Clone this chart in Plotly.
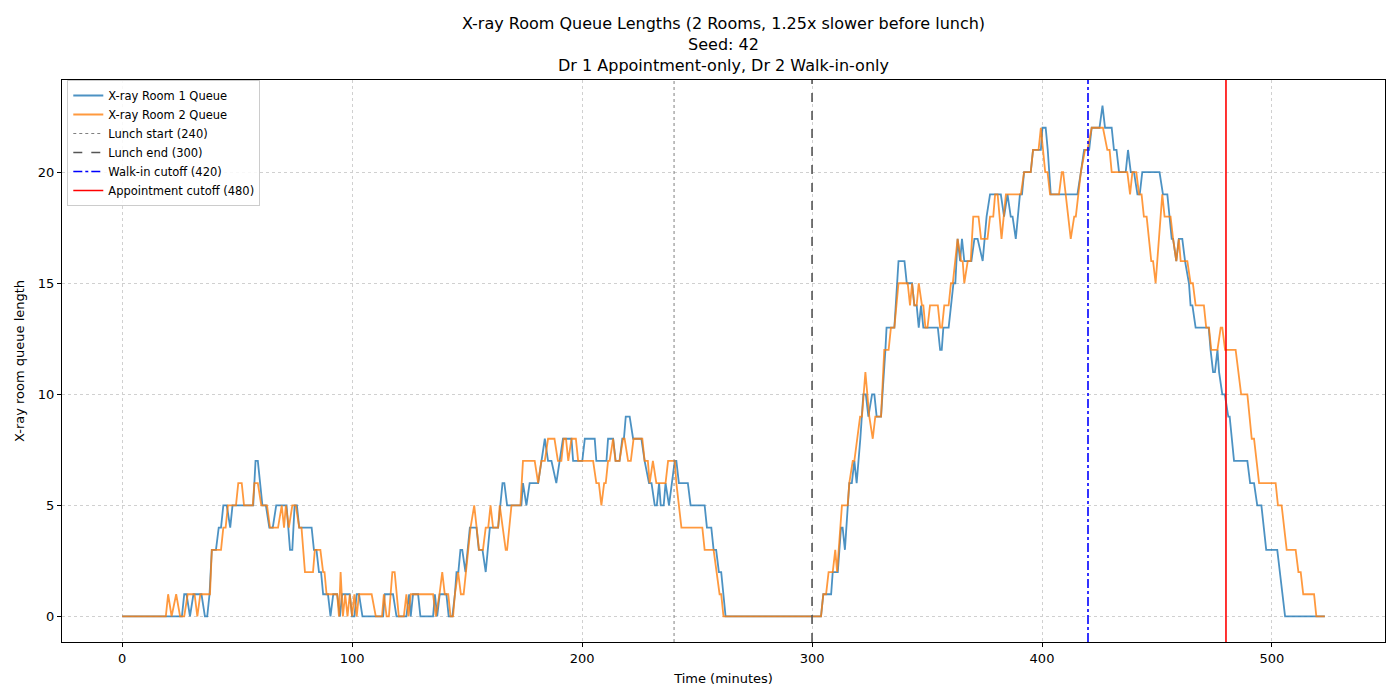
import plotly.graph_objects as go

# queue length breakpoints (time in minutes, queue length)
room1_t = [0, 26, 27, 28, 29.5, 31, 34.5, 36, 37, 38, 39, 40.8, 42, 43, 44, 45.5, 47, 48, 57, 58, 59, 61, 62.5, 64,
           65.5, 67, 70, 71.5, 73, 74, 75, 76, 77, 82.4, 83.4, 84.5, 85.6, 86.5, 87.4, 89.5, 90.6, 91.8, 93.5,
           94.7, 95.7, 99, 100, 101, 102, 103, 104.5, 113.5, 114.2, 117.8, 119.3, 123.6, 124.8, 125.5, 126.5,
           128.7, 129.7, 135.2, 136, 137, 138.1, 141, 142, 143.6, 144.7, 145.4, 146.2, 147.1, 147.9, 149.3,
           151.2, 154.1, 155.1, 156.7, 158.1, 159.9, 163.5, 165.4, 166.2, 167.4, 173.6, 174.3, 175.8, 177.2,
           180.9, 182.3, 183.8, 185.2, 186.7, 188.8, 190.3, 191.7, 195.4, 196.1, 200.1, 201.2, 205.5, 206.2,
           210.6, 211.3, 213.5, 214.6, 216.3, 217.5, 218.2, 219, 220.7, 222.2, 225.8, 227.2, 229.1, 230.2,
           231.6, 232.5, 233.5, 234.2, 235.5, 236.3, 237.8, 239, 240.3, 241, 242.1, 246, 247.2, 253.3, 254.3,
           256.2, 257.2, 258.3, 259.5, 260.5, 262.4, 303.9, 304.9, 308.3, 309, 311.2, 312.6, 313.3, 314.3,
           316.2, 317.3, 318.4, 319.4, 321, 322.3, 323.4, 324.5, 326.1, 327.1, 328.1, 330, 331.9, 332.4,
           335.8, 337.6, 340.2, 341.2, 343.5, 344.5, 345.5, 346.4, 347.4, 348.4, 354.7, 355.7, 356.4, 357.1,
           359.4, 361.5, 362.3, 363.3, 364.4, 365.2, 366.2, 369.3, 370.6, 372, 374.2, 375.9, 377.4, 382.1,
           383.5, 385, 386.4, 387.2, 388.6, 390.4, 391.3, 392.2, 395.1, 396.1, 399.5, 400.2, 401.6, 402.5,
           403.8, 415.4, 416.9, 418.3, 420.5, 421.6, 425, 426.3, 427.4, 430.3, 431.3, 432.4, 433.5, 436.4,
           437.4, 438.6, 440, 441.5, 442.5, 443.6, 451.1, 452.6, 454.5, 455.5, 456.4, 457, 458.4, 459.5,
           461, 462.2, 463.9, 464.6, 465.4, 466.8, 471.1, 472.5, 473.3, 474.4, 475.2, 476.3, 477, 478.4,
           479.5, 481, 481.6, 483.5, 489.3, 490.5, 492.2, 493.6, 495.4, 497.5, 502.3, 505.7, 523]
room1_q = [0, 0, 1, 1, 0, 1, 1, 0, 0, 1, 3, 3, 4, 4, 5, 5, 4, 5, 5, 7, 7, 5, 5, 4,
           4, 5, 5, 5, 3, 3, 5, 5, 4, 4, 3, 3, 2, 2, 1, 1, 0, 1, 1,
           0, 1, 1, 0, 0, 1, 1, 0, 0, 1, 1, 0, 0, 1, 0, 1,
           1, 0, 0, 1, 0, 1, 1, 0, 0, 1, 2, 2, 3, 3, 2,
           4, 4, 3, 3, 2, 4, 4, 6, 6, 5, 5, 6, 5, 6,
           6, 7, 8, 7, 7, 6, 7, 8, 8, 7, 7, 8, 8, 7,
           7, 8, 8, 7, 7, 8, 8, 9, 9, 8, 8, 7, 6, 6,
           5, 5, 6, 5, 5, 6, 5, 6, 7, 7, 6, 6, 5, 5, 4,
           4, 3, 3, 2, 2, 0, 0, 1, 1, 2, 2, 4, 4, 3,
           6, 6, 7, 6, 8, 10, 10, 9, 10, 10, 9, 9, 12, 13,
           13, 16, 16, 15, 15, 14, 14, 13, 14, 13, 13, 12, 12, 13,
           13, 15, 15, 17, 16, 17, 16, 16, 17, 17, 16, 18, 19, 19,
           18, 19, 18, 18, 17, 19, 19, 20, 20, 21, 21, 22, 22, 21,
           19, 19, 20, 21, 21, 22, 22, 23, 22, 22, 21, 21, 20, 20,
           21, 20, 20, 19, 19, 20, 20, 19, 19, 18, 17, 17, 16, 17,
           17, 16, 15, 14, 14, 13, 13, 13, 12, 11, 11, 12, 11, 10,
           10, 9, 9, 7, 7, 6, 6, 5, 5, 3, 3, 0, 0]

room2_t = [0, 19, 20, 21.5, 23.5, 25.2, 27, 28.5, 31.5, 32.7, 34, 38.2, 39, 43, 44, 45, 46, 49.5, 50.5, 52, 53,
           56.8, 57.5, 59, 60.5, 63, 64.3, 67.8, 69.4, 70.4, 71.2, 72.5, 74, 75.5, 77, 78, 79.5, 83, 83.8, 86.2,
           87.4, 88, 88.9, 93.5, 94.3, 95, 96, 97, 98, 99, 100, 101, 102, 103, 108.5, 110.3, 113, 113.8, 115,
           116, 117.5, 118.5, 120.3, 122.5, 123.6, 124.5, 125.5, 135.2, 136.4, 138, 139.2, 140.3, 141.8, 142.8,
           143.9, 144.7, 146.1, 147.3, 148.5, 150.5, 151.5, 153.1, 154.1, 155.2, 156.9, 158.1, 159.2, 160.2,
           161.3, 163.5, 164.2, 166.8, 167.4, 169.3, 173.2, 174.3, 179.4, 180.9, 182.3, 183.8, 185.2, 188,
           189.5, 191, 192, 193, 194, 195.4, 197.3, 198.3, 204.8, 206.2, 207.3, 208.4, 209.6, 210.3, 211.3,
           212, 213.5, 214.5, 216.3, 217.8, 218.5, 220, 221.2, 222.4, 226.2, 227.2, 228.6, 229.4, 230.8,
           232.3, 236.3, 237.4, 240.3, 241, 243.2, 252.3, 253.3, 257.2, 259.8, 260.5, 261.5, 303.9, 304.9,
           306.1, 307.2, 309, 310.1, 310.9, 313, 315.5, 316.2, 317.7, 318.4, 320.9, 321.7, 323.2, 324.9,
           326.4, 327.5, 330, 331.4, 333.3, 334.3, 335.8, 337.6, 341.6, 342.6, 343.5, 344.5, 345.5, 346.4,
           347.8, 348.4, 349.3, 350.2, 351.3, 354.7, 355.7, 356.5, 357.5, 359.4, 360.4, 361.2, 363.3, 364.8,
           365.5, 366.2, 367.7, 369, 370.1, 372.4, 373.5, 376.3, 377.4, 378.8, 379.6, 380.7, 382.4, 384.3,
           390.8, 392.2, 395.1, 396.1, 398.5, 399.5, 401.4, 402.4, 403.5, 407.4, 408.6, 409.2, 410.3, 412.5,
           414, 414.7, 416.9, 418.7, 419.8, 421.6, 426.5, 428.4, 429.4, 430.3, 437.1, 438.3, 439.3, 441,
           442.2, 443.3, 444.3, 445.5, 447.5, 448.3, 449.4, 451.6, 452.3, 453.3, 455.9, 457, 458.4, 459.5,
           460.3, 463.2, 464.6, 465.6, 466.8, 470.4, 471.4, 472.6, 473.6, 476.3, 477.7, 478.4, 479.6, 484.2,
           486.6, 489.3, 491.2, 492.2, 494.4, 501.6, 502.6, 504.2, 506.4, 510.3, 511.5, 512.5, 513.6, 518.3,
           519.3, 523]
room2_q = [0, 0, 1, 0, 1, 0, 0, 1, 1, 0, 1, 1, 3, 3, 4, 4, 5, 5, 6, 6, 5,
           5, 6, 6, 5, 5, 4, 4, 5, 4, 5, 4, 5, 5, 4, 4, 2, 2, 3, 3,
           2, 2, 1, 1, 0, 2, 0, 1, 0, 1, 0, 1, 0, 1, 1, 0, 0, 1, 0,
           0, 2, 2, 0, 0, 1, 0, 1, 1, 0, 1, 2, 1, 1, 0,
           0, 1, 2, 1, 1, 3, 4, 5, 4, 3, 3, 4, 4, 5,
           4, 4, 5, 3, 3, 5, 5, 7, 7, 6, 7, 7, 8, 8,
           7, 7, 8, 8, 7, 8, 8, 7, 7, 6, 6, 5, 6, 6, 7,
           7, 8, 7, 7, 8, 8, 7, 7, 8, 8, 7, 7, 6, 7,
           6, 6, 7, 7, 6, 4, 4, 3, 3, 1, 1, 0, 0, 1,
           1, 2, 2, 3, 2, 5, 5, 6, 7, 7, 9, 9, 11, 9,
           8, 9, 9, 12, 12, 13, 13, 15, 15, 14, 15, 14, 14, 15,
           14, 14, 13, 13, 14, 14, 13, 13, 14, 14, 15, 15, 17, 16,
           16, 15, 16, 16, 18, 18, 17, 17, 18, 18, 19, 19, 17, 19,
           19, 20, 20, 21, 21, 22, 20, 20, 19, 19, 20, 20, 19, 17,
           18, 18, 20, 21, 21, 22, 22, 21, 21, 20, 20, 19, 20, 20,
           19, 19, 18, 18, 16, 16, 15, 18, 19, 18, 18, 17, 16, 17,
           16, 16, 15, 15, 14, 14, 13, 13, 12, 12, 13, 13, 12, 12,
           10, 10, 8, 8, 6, 6, 5, 5, 3, 3, 2, 2, 1, 1,
           0, 0]

event_times = [240, 300, 420, 480]
event_labels = ["Lunch start (240)", "Lunch end (300)", "Walk-in cutoff (420)", "Appointment cutoff (480)"]
event_colors = ["gray", "#555555", "blue", "red"]
event_dash = ["dot", "dash", "dashdot", "solid"]
event_widths = [1, 1.6, 1.6, 1.6]

fig = go.Figure()
fig.add_trace(go.Scatter(x=room1_t, y=room1_q, mode="lines", name="X-ray Room 1 Queue",
                         line=dict(color="rgba(31,119,180,0.8)", width=1.8)))
fig.add_trace(go.Scatter(x=room2_t, y=room2_q, mode="lines", name="X-ray Room 2 Queue",
                         line=dict(color="rgba(255,127,14,0.8)", width=1.8)))

# vertical event lines span the whole axis height; dummy traces give them legend entries
for t, lab, c, d, w in zip(event_times, event_labels, event_colors, event_dash, event_widths):
    fig.add_shape(type="line", x0=t, x1=t, y0=0, y1=1, xref="x", yref="paper",
                  line=dict(color=c, dash=d, width=w))
    fig.add_trace(go.Scatter(x=[None], y=[None], mode="lines", name=lab,
                             line=dict(color=c, dash=d, width=w)))

fig.update_layout(
    width=1400, height=700,
    paper_bgcolor="white", plot_bgcolor="white",
    font=dict(family="DejaVu Sans", size=13, color="black"),
    title=dict(text="X-ray Room Queue Lengths (2 Rooms, 1.25x slower before lunch)<br>Seed: 42<br>"
                    "Dr 1 Appointment-only, Dr 2 Walk-in-only",
               x=0.5, xref="paper", xanchor="center", y=0.97, yanchor="top",
               font=dict(size=16)),
    margin=dict(l=54, r=23, t=72, b=66),
    showlegend=True,
    legend=dict(x=0.004, y=1.0, xanchor="left", yanchor="top",
                bgcolor="rgba(255,255,255,0.85)", bordercolor="#cccccc", borderwidth=1,
                font=dict(size=11.5)),
)
fig.update_xaxes(range=[-26.15, 549.15], tickvals=[0, 100, 200, 300, 400, 500],
                 title=dict(text="Time (minutes)", standoff=9, font=dict(size=13)),
                 showline=True, linecolor="black", linewidth=1, mirror=True,
                 ticks="outside", ticklen=4, tickcolor="black",
                 showgrid=True, gridcolor="#d0d0d0", griddash="dot", gridwidth=0.8, zeroline=False)
fig.update_yaxes(range=[-1.15, 24.15], tickvals=[0, 5, 10, 15, 20],
                 title=dict(text="X-ray room queue length", standoff=10, font=dict(size=13)),
                 showline=True, linecolor="black", linewidth=1, mirror=True,
                 ticks="outside", ticklen=4, tickcolor="black",
                 showgrid=True, gridcolor="#d0d0d0", griddash="dot", gridwidth=0.8, zeroline=False)

fig.write_html("out.html")
